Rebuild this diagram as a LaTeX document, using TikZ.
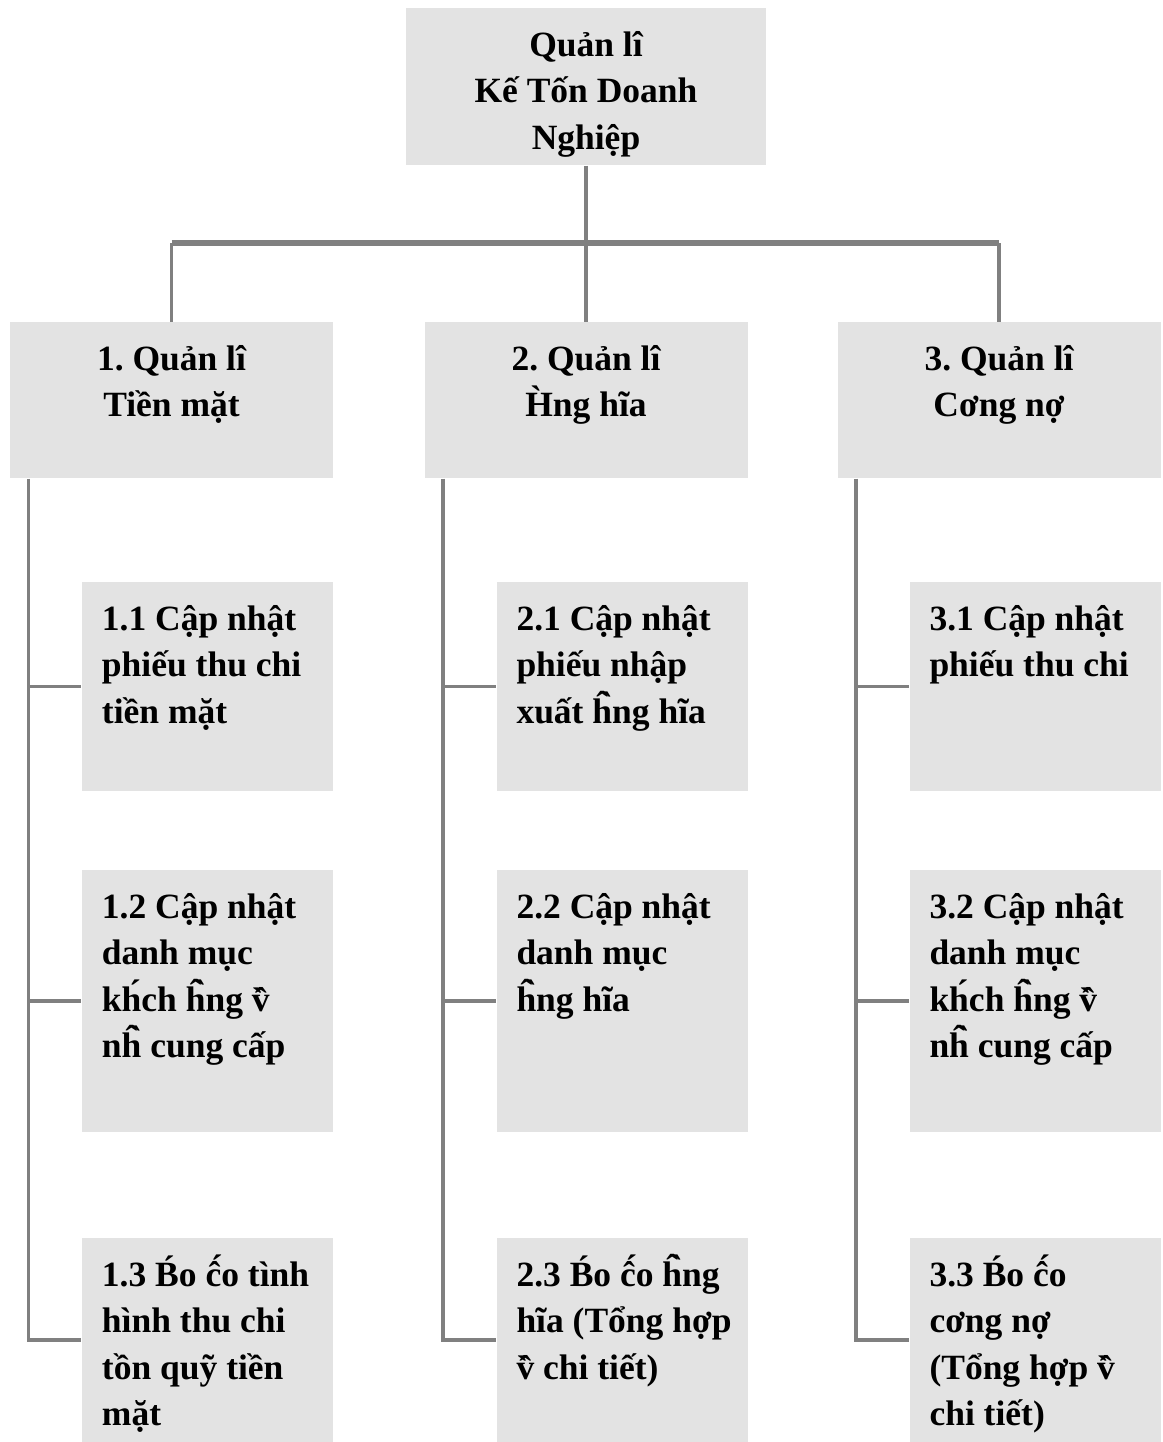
\documentclass[tikz,border=0pt]{standalone}
\usepackage{fontspec}
\setmainfont{Liberation Serif}
\usetikzlibrary{calc}
\definecolor{boxgray}{HTML}{E3E3E3}
\definecolor{linegray}{HTML}{808080}
\newcommand{\lnstrut}{\rule{0pt}{15pt}}
\frenchspacing

\begin{document}
\begin{tikzpicture}[x=0.4pt,y=-0.4pt,
  box/.style 2 args={fill=boxgray, inner sep=0pt, minimum width=#1, minimum height=#2},
  txt/.style={anchor=north west, inner sep=0pt, align=left, font=\bfseries\fontsize{14.2}{18.6}\selectfont},
  ctxt/.style={txt, anchor=north, align=center},
  link/.style={draw=linegray, line width=1.5pt},
  bus/.style={draw=linegray, line width=2.4pt}]

\useasboundingbox (0,0) rectangle (1163,1442);

% Top box
\node[box={144pt}{62.8pt}] (top) at (586,86.5) {};
\node[ctxt] (ttop) at ($(top.north)+(0,10.5)$) {\lnstrut Quản lî\\Kế Tốn Doanh\\Nghiệp};

% Second level
\node[box={129.2pt}{62.4pt}] (b1) at (171.5,400) {};
\node[box={129.2pt}{62.4pt}] (b2) at (586,400) {};
\node[box={129.2pt}{62.4pt}] (b3) at (999,400) {};
\node[ctxt] (tb1) at ($(b1.north)+(0,10.5)$) {\lnstrut 1. Quản lî\\Tiền mặt};
\node[ctxt] (tb2) at ($(b2.north)+(0,10.5)$) {\lnstrut 2. Quản lî\\H^^^^0300ng hĩa};
\node[ctxt] (tb3) at ($(b3.north)+(0,10.5)$) {\lnstrut 3. Quản lî\\Cơng nợ};

% Leaves
\foreach \c/\x in {1/207.5,2/622,3/1035} {
  \node[box={100.4pt}{83.6pt}] (b\c1) at (\x,686.5) {};
  \node[box={100.4pt}{104.8pt}] (b\c2) at (\x,1001) {};
  \node[box={100.4pt}{81.6pt}] (b\c3) at (\x,1340) {};
}

\node[txt] (t11) at ($(b11.north west)+(20,10.5)$) {\lnstrut 1.1 Cập nhật\\phiếu thu chi\\tiền mặt};
\node[txt] (t12) at ($(b12.north west)+(20,10.5)$) {\lnstrut 1.2 Cập nhật\\danh mục\\kh^^^^0301ch h^^^^0302^^^^0300ng v^^^^0302^^^^0300\\nh^^^^0302^^^^0300 cung cấp};
\node[txt] (t13) at ($(b13.north west)+(20,10.5)$) {\lnstrut 1.3 B^^^^0301o c^^^^0302^^^^0301o tình\\hình thu chi\\tồn quỹ tiền\\mặt};

\node[txt] (t21) at ($(b21.north west)+(20,10.5)$) {\lnstrut 2.1 Cập nhật\\phiếu nhập\\xuất h^^^^0302^^^^0300ng hĩa};
\node[txt] (t22) at ($(b22.north west)+(20,10.5)$) {\lnstrut 2.2 Cập nhật\\danh mục\\h^^^^0302^^^^0300ng hĩa};
\node[txt] (t23) at ($(b23.north west)+(20,10.5)$) {\lnstrut 2.3 B^^^^0301o c^^^^0302^^^^0301o h^^^^0302^^^^0300ng\\hĩa (Tổng hợp\\v^^^^0302^^^^0300 chi tiết)};

\node[txt] (t31) at ($(b31.north west)+(20,10.5)$) {\lnstrut 3.1 Cập nhật\\phiếu thu chi};
\node[txt] (t32) at ($(b32.north west)+(20,10.5)$) {\lnstrut 3.2 Cập nhật\\danh mục\\kh^^^^0301ch h^^^^0302^^^^0300ng v^^^^0302^^^^0300\\nh^^^^0302^^^^0300 cung cấp};
\node[txt] (t33) at ($(b33.north west)+(20,10.5)$) {\lnstrut 3.3 B^^^^0301o c^^^^0302^^^^0301o\\cơng nợ\\(Tổng hợp v^^^^0302^^^^0300\\chi tiết)};

% Tree lines
\coordinate (split) at ($(top.south)+(0,77.5)$);
\draw[link] (top.south) -- (split);
\draw[bus] (b1.north |- split) -- (b3.north |- split);
\foreach \c in {1,2,3} {
  \draw[link] (b\c.north |- split) -- (b\c.north);
  \coordinate (s\c) at ($(b\c.south west)+(19,0)$);
  \draw[link] (s\c) |- (b\c3.west);
  \draw[link] (s\c |- b\c1.west) -- (b\c1.west);
  \draw[link] (s\c |- b\c2.west) -- (b\c2.west);
}

\end{tikzpicture}
\end{document}
